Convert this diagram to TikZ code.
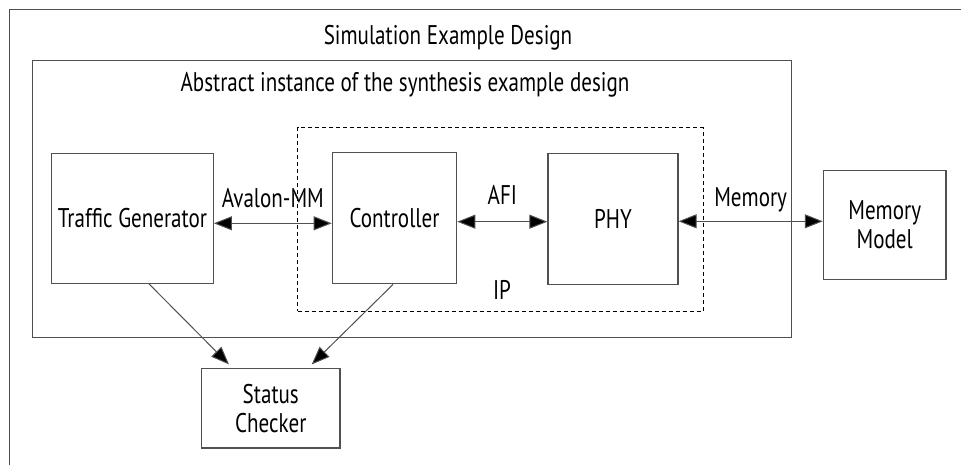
\documentclass[tikz,border=0pt]{standalone}
\usepackage{fontspec}
\setmainfont{PT Sans}[FakeStretch=0.78]
\usetikzlibrary{arrows.meta}
\definecolor{linegray}{HTML}{505050}
\tikzset{
  txt/.style={font=\fontsize{27}{29}\selectfont},
  box/.style={draw=linegray, line width=1.2pt, inner sep=0pt, align=center, txt},
  ipbox/.style={draw=black, line width=1pt, dash pattern=on 4pt off 3pt, inner sep=0pt},
  lbl/.style={inner sep=0pt, txt},
  tip/.style={Triangle[length=18pt,width=14pt,fill=black]},
  conn/.style={draw=linegray, line width=1pt, -{Triangle[length=18pt,width=14pt,fill=black]}},
  biconn/.style={draw=linegray, line width=1pt, {Triangle[length=18pt,width=14pt,fill=black]}-{Triangle[length=18pt,width=14pt,fill=black]}}
}
\begin{document}
\begin{tikzpicture}[x=1pt,y=-1pt]
\useasboundingbox (0,0) rectangle (961,465);
\fill[white] (0,0) rectangle (961,465);
% outer frame (cut off at right and bottom)
\draw[linegray, line width=1.2pt] (9.5,470) -- (9.5,9.3) -- (970,9.3);
\node[lbl] (title) at (448,38) {Simulation Example Design};
% inner frame
\node[box, minimum width=759.2pt, minimum height=276.6pt] (inner) at (412.1,199) {};
\node[lbl] (abstract) at (405,85) {Abstract instance of the synthesis example design};
% IP dashed
\node[ipbox, minimum width=405.6pt, minimum height=183.3pt] (ip) at (500.5,219.35) {};
\node[lbl] (iplbl) at (502,290) {IP};
% blocks
\node[box, minimum width=161.6pt, minimum height=130pt] (tg) at (132.5,218.3) {Traffic Generator};
\node[box, minimum width=124.4pt, minimum height=131.7pt] (ctrl) at (394.5,218) {Controller};
\node[box, minimum width=130pt, minimum height=130.6pt] (phy) at (613,219) {PHY};
\node[box, minimum width=122.7pt, minimum height=108.6pt] (mm) at (884.7,225) {Memory\\Model};
\node[box, minimum width=138.3pt, minimum height=79.7pt] (sc) at (270.8,408.2) {Status\\Checker};
% connectors
\draw[biconn] ([yshift=-5pt]tg.east) -- node[lbl, above=15pt] (av) {Avalon-MM} ([yshift=-5.3pt]ctrl.west);
\draw[biconn] ([yshift=-3.7pt]ctrl.east) -- node[lbl, above=16.5pt] (afi) {AFI} ([yshift=-2.7pt]phy.west);
\draw[biconn] ([yshift=-2.3pt]phy.east) -- node[lbl, above=9pt] (mem) {Memory} ([yshift=3.7pt]mm.west);
\draw[conn] ([xshift=16.5pt]tg.south) -- ([xshift=-41.8pt,yshift=3.3pt]sc.north);
\draw[conn] ([xshift=-1.5pt]ctrl.south) -- ([xshift=40.9pt,yshift=3.3pt]sc.north);
\end{tikzpicture}
\end{document}
